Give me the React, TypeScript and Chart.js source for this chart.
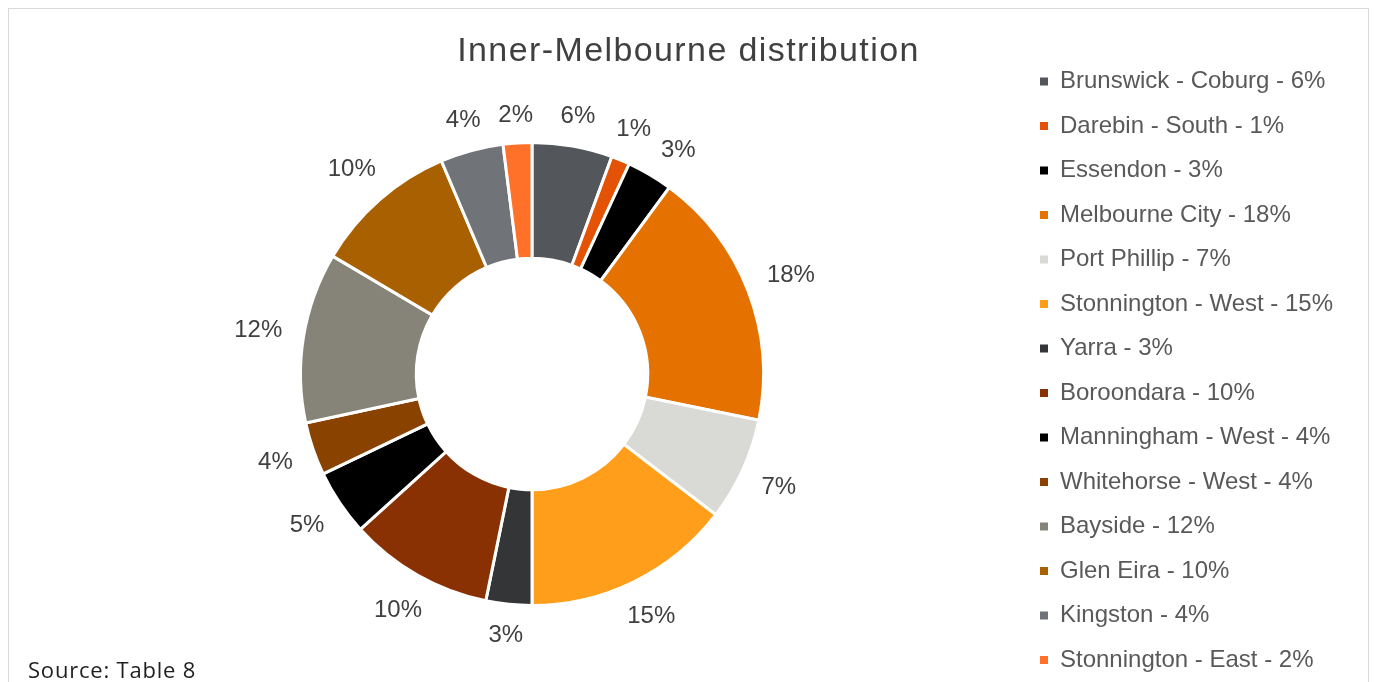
import React, { useEffect, useRef } from "react";
import { Chart, registerables } from "chart.js";

Chart.register(...registerables);

const FONT = "'Liberation Sans', Arial, Helvetica, sans-serif";
Chart.defaults.font.family = FONT;

const chartTitle = "Inner-Melbourne distribution";
const sourceNote = "Source: Table 8";

const categories = [
  "Brunswick - Coburg",
  "Darebin - South",
  "Essendon",
  "Melbourne City",
  "Port Phillip",
  "Stonnington - West",
  "Yarra",
  "Boroondara",
  "Manningham - West",
  "Whitehorse - West",
  "Bayside",
  "Glen Eira",
  "Kingston",
  "Stonnington - East",
];

// slice shares (percent of total)
const shares = [5.6, 1.3, 3.2, 18.1, 7.2, 14.6, 3.2, 10.1, 4.6, 3.7, 11.9, 10.1, 4.4, 2.0];

// percentages quoted in the legend text
const legendPercents = [6, 1, 3, 18, 7, 15, 3, 10, 4, 4, 12, 10, 4, 2];

const colors = [
  "#53565A",
  "#E35205",
  "#000000",
  "#E57200",
  "#D9D9D6",
  "#FF9E1B",
  "#333537",
  "#8A3103",
  "#000000",
  "#8A4200",
  "#868478",
  "#A86000",
  "#707479",
  "#FF7029",
];

type Box = { l: number; r: number; t: number; b: number };

const overlaps = (a: Box, b: Box, m: number) =>
  a.l < b.r + m && b.l < a.r + m && a.t < b.b + m && b.t < a.b + m;

const outerLabels = {
  id: "outerLabels",
  afterDatasetsDraw(chart: any) {
    const ctx = chart.ctx as CanvasRenderingContext2D;
    const meta = chart.getDatasetMeta(0);
    const data = chart.data.datasets[0].data as number[];
    const total = data.reduce((a, b) => a + b, 0);
    ctx.save();
    ctx.font = `24px ${FONT}`;
    ctx.fillStyle = "#404040";
    ctx.textAlign = "center";
    ctx.textBaseline = "middle";
    const placed: Box[] = [];
    meta.data.forEach((arc: any, i: number) => {
      const p = arc.getProps(["x", "y", "startAngle", "endAngle", "outerRadius"], true);
      const text = Math.round((data[i] / total) * 100) + "%";
      const hw = ctx.measureText(text).width / 2;
      const hh = 7;
      const at = (a: number) => {
        const c = Math.cos(a);
        const s = Math.sin(a);
        const d = p.outerRadius + 21 + hw * Math.abs(c) + hh * Math.abs(s);
        const x = p.x + c * d;
        const y = p.y + s * d;
        return { x, y, box: { l: x - hw, r: x + hw, t: y - 10, b: y + 10 } };
      };
      let a = (p.startAngle + p.endAngle) / 2;
      let pos = at(a);
      let guard = 0;
      while (placed.some((b) => overlaps(pos.box, b, 9)) && guard < 80) {
        a += Math.PI / 360;
        pos = at(a);
        guard++;
      }
      placed.push(pos.box);
      ctx.fillText(text, pos.x, pos.y + 1);
    });
    ctx.restore();
  },
};

export default function App() {
  const ref = useRef<HTMLCanvasElement>(null);

  useEffect(() => {
    const pad = { left: 35.5, right: 30, top: 40, bottom: 0 };
    const chart = new Chart(ref.current as HTMLCanvasElement, {
      type: "doughnut",
      data: {
        labels: categories,
        datasets: [
          {
            data: shares,
            backgroundColor: colors,
            borderColor: "#ffffff",
            borderWidth: 3,
            borderJoinStyle: "miter",
            hoverOffset: 0,
          } as any,
        ],
      },
      options: {
        responsive: false,
        animation: false,
        events: [],
        radius: 231.5,
        cutout: "50%",
        layout: { padding: pad },
        plugins: {
          title: { display: false },
          tooltip: { enabled: false },
          legend: {
            display: true,
            position: "right",
            align: "start",
            labels: {
              boxWidth: 8,
              boxHeight: 8,
              padding: 20.5,
              color: "#595959",
              font: { size: 24, family: FONT },
              generateLabels: () =>
                categories.map((c, i) => ({
                  text: `${c} - ${legendPercents[i]}%`,
                  fillStyle: colors[i],
                  strokeStyle: colors[i],
                  lineWidth: 0,
                  hidden: false,
                  index: i,
                  fontColor: "#595959",
                })),
            },
          },
        },
      } as any,
      plugins: [outerLabels],
    });
    const legend: any = (chart as any).legend;
    if (legend) {
      const delta = legend.left - 1010.5;
      (chart.options as any).layout.padding = { ...pad, right: pad.right + delta };
      chart.update();
    }
    return () => chart.destroy();
  }, []);

  return (
    <div
      style={{
        position: "relative",
        width: 1359,
        height: 673,
        borderTop: "1px solid #D9D9D9",
        borderLeft: "1px solid #D9D9D9",
        borderRight: "1px solid #D9D9D9",
        overflow: "hidden",
        background: "#ffffff",
      }}
    >
      <canvas
        ref={ref}
        width={1359}
        height={690}
        style={{ position: "absolute", left: 0, top: 0, width: 1359, height: 690 }}
      />
      <div
        style={{
          position: "absolute",
          top: 22.6,
          left: 0,
          width: "100%",
          textAlign: "center",
          fontFamily: FONT,
          fontSize: 34,
          lineHeight: "34px",
          letterSpacing: "1.4px",
          color: "#404040",
          whiteSpace: "nowrap",
        }}
      >
        {chartTitle}
      </div>
      <div
        style={{
          position: "absolute",
          left: 19,
          top: 649,
          fontFamily: "'Open Sans', Lato, sans-serif",
          fontSize: 22,
          lineHeight: "22px",
          letterSpacing: "0.8px",
          color: "#1f1f1f",
          whiteSpace: "nowrap",
        }}
      >
        {sourceNote}
      </div>
    </div>
  );
}
